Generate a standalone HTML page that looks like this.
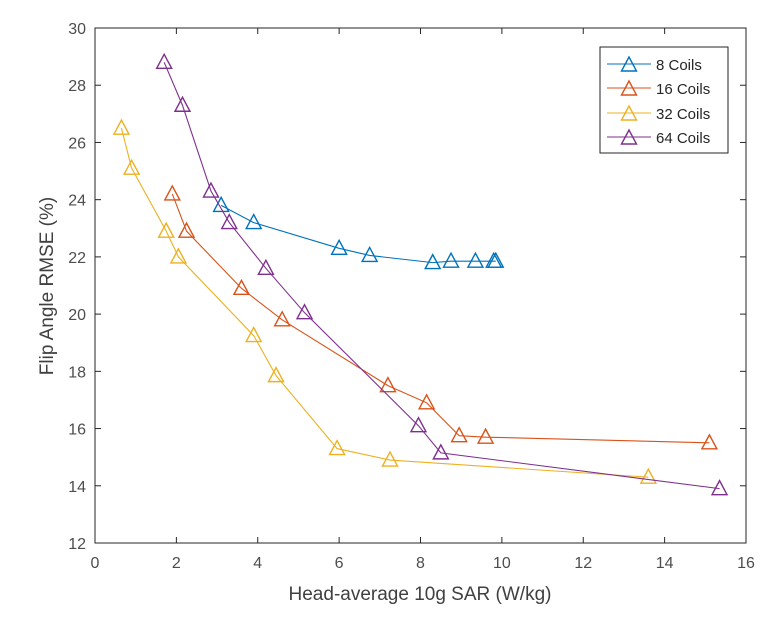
<!DOCTYPE html>
<html><head><meta charset="utf-8"><style>
body{margin:0;background:#fff;}
svg{display:block;font-family:"Liberation Sans",sans-serif;}
</style></head><body>
<svg id="chart" width="770" height="622" viewBox="0 0 770 622" xmlns="http://www.w3.org/2000/svg">
<rect x="0" y="0" width="770" height="622" fill="#fff"/>
<g id="grid"></g>
<g id="series"></g>
<g id="axes"></g>
<text x="420" y="600" text-anchor="middle" font-size="19" fill="#404040">Head-average 10g SAR (W/kg)</text>
<text transform="translate(53,286) rotate(-90)" text-anchor="middle" font-size="19" fill="#404040">Flip Angle RMSE (%)</text>
<g id="legend"></g>
</svg>
<script>
const seriesNames = ["8 Coils","16 Coils","32 Coils","64 Coils"];
const xTicks = [0,2,4,6,8,10,12,14,16];
const yTicks = [12,14,16,18,20,22,24,26,28,30];
const x8 = [3.1,3.9,6.0,6.75,8.3,8.75,9.35,9.8,9.85];
const y8 = [23.8,23.2,22.3,22.05,21.8,21.85,21.85,21.85,21.85];
const x16 = [1.9,2.25,3.6,4.6,7.2,8.15,8.95,9.6,15.1];
const y16 = [24.2,22.9,20.9,19.8,17.5,16.9,15.75,15.7,15.5];
const x32 = [0.65,0.9,1.75,2.05,3.9,4.45,5.95,7.25,13.6];
const y32 = [26.5,25.1,22.9,22.0,19.25,17.85,15.3,14.9,14.3];
const x64 = [1.7,2.15,2.85,3.3,4.2,5.15,7.95,8.5,15.35];
const y64 = [28.8,27.3,24.3,23.2,21.6,20.05,16.1,15.15,13.9];

const colors = ["#0072BD","#D95319","#EDB120","#7E2F8E"];
const X0=95,X1=746,Y0=543,Y1=28;
const sx=v=>X0+(v-0)/(16-0)*(X1-X0);
const sy=v=>Y0-(v-12)/(30-12)*(Y0-Y1);
const NS="http://www.w3.org/2000/svg";
function mk(tag,attrs,parent){const e=document.createElementNS(NS,tag);for(const k in attrs)e.setAttribute(k,attrs[k]);parent.appendChild(e);return e;}
const axes=document.getElementById('axes');
const box=mk('rect',{x:X0,y:Y1,width:X1-X0,height:Y0-Y1,fill:'none',stroke:'#262626','stroke-width':1},axes);


xTicks.forEach(t=>{
  const x=sx(t);
  mk('line',{x1:x,y1:Y0,x2:x,y2:Y0-6,stroke:'#262626'},axes);
  mk('line',{x1:x,y1:Y1,x2:x,y2:Y1+6,stroke:'#262626'},axes);
  const tx=mk('text',{x:x,y:Y0+25,'text-anchor':'middle','font-size':16,fill:'#4d4d4d'},axes);
  tx.textContent=t;
  
  
});
yTicks.forEach(t=>{
  const y=sy(t);
  mk('line',{x1:X0,y1:y,x2:X0+6,y2:y,stroke:'#262626'},axes);
  mk('line',{x1:X1,y1:y,x2:X1-6,y2:y,stroke:'#262626'},axes);
  const tx=mk('text',{x:X0-9,y:y+6,'text-anchor':'end','font-size':16,fill:'#4d4d4d'},axes);
  tx.textContent=t;
  
  
});
const data=[[x8,y8],[x16,y16],[x32,y32],[x64,y64]];
const ser=document.getElementById('series');
function tri(cx,cy,c,parent){
  const p=mk('polygon',{points:`${cx},${cy-8} ${cx-7.5},${cy+6} ${cx+7.5},${cy+6}`,fill:'none',stroke:c,'stroke-width':1.4},parent);
  return p;
}
data.forEach((d,i)=>{
  const g=mk('g',{},ser);
  
  
  const pts=d[0].map((x,j)=>sx(x)+','+sy(d[1][j])).join(' ');
  mk('polyline',{points:pts,fill:'none',stroke:colors[i],'stroke-width':1.1},g);
  d[0].forEach((x,j)=>{
    const m=tri(sx(x),sy(d[1][j]),colors[i],g);
    
    
  });
});
const leg=document.getElementById('legend');
mk('rect',{x:600,y:47,width:128,height:106,fill:'#fff',stroke:'#262626','stroke-width':1},leg);
const ly=[64,88,113,137];
seriesNames.forEach((n,i)=>{
  const g=mk('g',{},leg);
  
  
  mk('line',{x1:607,y1:ly[i],x2:651,y2:ly[i],stroke:colors[i],'stroke-width':1.1},g);
  tri(629,ly[i]+1,colors[i],g);
  const t=mk('text',{x:656,y:ly[i]+6,'font-size':15,fill:'#262626'},g);
  t.textContent=n;
});
</script>
</body></html>
